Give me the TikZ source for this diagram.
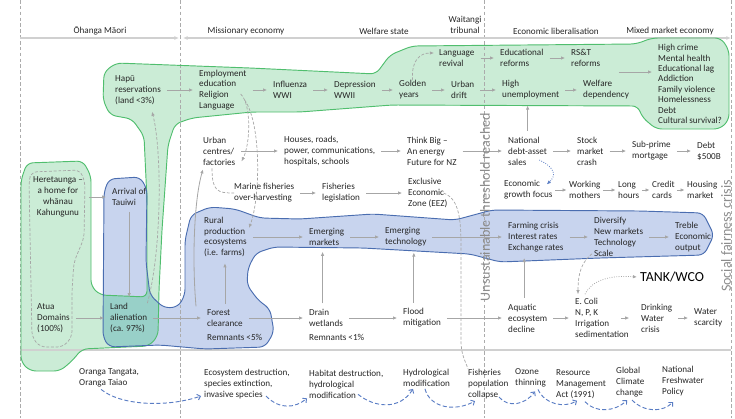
\documentclass[tikz,border=0pt]{standalone}
\usepackage{fontspec}
\setmainfont{Carlito}
\usepackage{tikz}
\usetikzlibrary{arrows.meta}

\definecolor{ink}{HTML}{262626}
\definecolor{greenfill}{HTML}{CBECD6}
\definecolor{greenline}{HTML}{50BE6E}
\definecolor{bluefill}{HTML}{C8D4EE}
\definecolor{blueline}{HTML}{4A6DB0}
\definecolor{tealfill}{HTML}{98D0C8}
\definecolor{arrgray}{HTML}{A6A6A6}
\definecolor{guidegray}{HTML}{ABABAB}
\definecolor{rulegray}{HTML}{D0D0D0}
\definecolor{bluelink}{HTML}{5A7DC4}
\definecolor{sidegray}{HTML}{8C8C8C}

\newcommand{\bodyfont}{\fontsize{7.8}{9.3}\selectfont}
\newcommand{\tankfont}{\fontsize{11.8}{14}\selectfont}
\newcommand{\sidefont}{\fontsize{12}{14}\selectfont}

%% blob outlines (pixel grid, y pointing down)
\newcommand{\greenpath}{(21,180) -- (27,163) -- (83,161) -- (91,176) -- (91,286) -- (100,295)
  -- (147,297) -- (147,200) -- (144,136) -- (132,119) -- (110,115) -- (103,100) -- (104,72)
  -- (116,63) -- (250,68) -- (376,74) -- (390,55) -- (412,46) -- (636,44) -- (652,38)
  -- (721,38) -- (729,50) -- (729,120) -- (720,129) -- (656,129) -- (642,117) -- (638,106)
  -- (392,105) -- (300,112) -- (252,112) -- (192,118) -- (175,124) -- (168,145) -- (162,230)
  -- (159,290) -- (158,336) -- (149,346) -- (82,349) -- (72,361) -- (60,371) -- (30,371)
  -- (21,362) -- cycle}
\newcommand{\bluepath}{(104,192) -- (109,179) -- (140,177) -- (147,189) -- (146,262)
  -- (150,295) -- (164,308) -- (178,307) -- (185,295) -- (185,240) -- (191,215) -- (210,207)
  -- (235,209) -- (260,218) -- (300,219) -- (373,214) -- (455,220) -- (492,210) -- (640,211)
  -- (703,213) -- (714,235) -- (704,255) -- (600,258) -- (500,262) -- (470,254) -- (363,248)
  -- (274,247) -- (256,253) -- (248,268) -- (247,285) -- (258,300) -- (270,309) -- (274,332)
  -- (265,347) -- (205,349) -- (160,345) -- (109,347) -- (103,337) -- cycle}

\begin{document}
\begin{tikzpicture}[
    x=0.03cm, y=-0.03cm,
    every node/.style={font=\bodyfont, text=ink},
    txt/.style={anchor=west, align=left, inner sep=0pt},
    ctr/.style={align=center, inner sep=0pt},
    hdr/.style={inner sep=0pt, align=center},
    arr/.style={-{Latex[length=3.5pt,width=3pt]}, draw=arrgray, line width=0.7pt,
                shorten <=5pt, shorten >=5pt},
    shortarr/.style={arr, shorten <=2pt, shorten >=2pt},
    dashlink/.style={draw=arrgray, line width=0.6pt, dash pattern=on 2.5pt off 1.5pt},
    linkarr/.style={dashlink, -{Latex[length=3.5pt,width=3pt]}},
    dotarr/.style={draw=arrgray, line width=0.7pt, dash pattern=on 0.7pt off 1.3pt,
                   -{Latex[length=3.5pt,width=3pt]}},
    bluedot/.style={dotarr, draw=bluelink},
    wavearr/.style={draw=bluelink, line width=0.8pt, dash pattern=on 3.5pt off 2pt,
                    -{Straight Barb[length=2.5pt,width=5pt]}},
    guideline/.style={draw=guidegray, line width=0.5pt, dash pattern=on 3pt off 2pt},
    timeline/.style={draw=rulegray, line width=1.2pt},
    sidetxt/.style={font=\sidefont, text=sidegray, rotate=90, inner sep=0pt},
    blob/.style={rounded corners=5pt, line width=0.8pt},
  ]
  \useasboundingbox (0,0) rectangle (735,418);

  %% Background blobs (teal where green and blue overlap)
  \fill[blob, fill=greenfill] \greenpath;
  \fill[blob, fill=bluefill] \bluepath;
  \begin{scope}[rounded corners=5pt]
    \clip \greenpath;
    \fill[fill=tealfill] \bluepath;
  \end{scope}

  %% Era guides, timeline and bottom rule
  \foreach \gx in {20,180,484,731}
    \draw[guideline] (\gx,0) -- (\gx,418);
  \coordinate (t0) at (20,38);
  \coordinate (t1) at (179,38);
  \coordinate (t2) at (183,38);
  \coordinate (t3) at (731,38);
  \draw[timeline, -{Latex[length=4pt,width=3.5pt]}] (t0) -- (t1);
  \draw[timeline, {Latex[length=4pt,width=3.5pt]}-{Latex[length=4pt,width=3.5pt]}] (t2) -- (t3);
  \coordinate (r0) at (20,350);
  \coordinate (r1) at (731,350);
  \draw[timeline, line width=1pt] (r0) -- (r1);

  \draw[blob, draw=greenline] \greenpath;
  \draw[blob, draw=blueline] \bluepath;
  \draw[dashlink, rounded corners=5pt] (29,182) -- (31,172) -- (80,170) -- (85,182) -- (84,238)
    -- (74,262) -- (72,290) -- (72,337) -- (63,347) -- (40,347) -- (32,337) -- cycle;

  %% Era headers
  \node[hdr] (hohanga)   at (100,31) {Ōhanga Māori};
  \node[hdr] (hmission)  at (246,31) {Missionary economy};
  \node[hdr] (hwelfare)  at (384,31) {Welfare state};
  \node[hdr] (hwaitangi) at (465,25) {Waitangi\\tribunal};
  \node[hdr] (hliberal)  at (556,31) {Economic liberalisation};
  \node[hdr] (hmixed)    at (670,31) {Mixed market economy};

  %% Green band
  \node[txt] (hapu)    at (115,90) {Hapū\\reservations\\(land <3\%)};
  \node[txt] (employ)  at (199,90) {Employment\\education\\Religion\\Language};
  \node[txt] (flu)     at (273,90) {Influenza\\WWI};
  \node[txt] (depr)    at (334,90) {Depression\\WWII};
  \node[txt] (golden)  at (399,90) {Golden\\years};
  \node[txt] (drift)   at (451,90) {Urban\\drift};
  \node[txt] (revival) at (439,58) {Language\\revival};
  \node[txt] (edref)   at (500,58) {Educational\\reforms};
  \node[txt] (rst)     at (571,58) {RS\&T\\reforms};
  \node[txt] (unemp)   at (502,90) {High\\unemployment};
  \node[txt] (welfdep) at (583,90) {Welfare\\dependency};
  \node[txt, font=\fontsize{7.8}{8.9}\selectfont] (crisis) at (658,84)
    {High crime\\Mental health\\Educational lag\\Addiction\\Family violence\\Homelessness\\Debt\\Cultural survival?};

  \draw[arr] (hapu)    -- (employ);
  \draw[arr] (employ)  -- (flu);
  \draw[arr] (flu)     -- (depr);
  \draw[arr] (depr)    -- (golden);
  \draw[arr] (golden)  -- (drift);
  \draw[arr] (drift)   -- (unemp);
  \draw[arr] (revival) -- (edref);
  \draw[arr] (edref)   -- (rst);
  \draw[arr] (unemp)   -- (welfdep);
  \coordinate (reformsout) at (613,72);
  \draw[arr] (reformsout) -- (reformsout -| crisis.west);
  \draw[linkarr] (golden.north) .. controls (411,60) and (420,53) .. ([shift={(-5,-5)}]revival.west);

  %% Left pillars
  \node[ctr] (here)    at (58,197)  {Heretaunga –\\a home for\\whānau\\Kahungunu};
  \node[txt] (arrival) at (112,197) {Arrival of\\Tauiwi};
  \node[txt] (atua)    at (37,318)  {Atua\\Domains\\(100\%)};
  \node[txt] (land)    at (110,318) {Land\\alienation\\(ca. 97\%)};

  \draw[arr] (here) -- (arrival);
  \draw[arr] (arrival.south) -- (arrival.south |- land.north);
  \draw[arr] (atua) -- (land);
  \draw[linkarr] (land.north east) .. controls (162,250) and (162,150) .. ([shift={(-9,7)}]hapu.south east);

  %% Middle rows
  \node[txt] (urban)    at (203,151) {Urban\\centres/\\factories};
  \node[txt] (houses)   at (284,151) {Houses, roads,\\power, communications,\\hospitals, schools};
  \node[txt] (thinkbig) at (407,151) {Think Big –\\An energy\\Future for NZ};
  \node[txt] (national) at (508,151) {National\\debt-asset\\sales};
  \node[txt] (stock)    at (577,151) {Stock\\market\\crash};
  \node[txt] (subprime) at (632,151) {Sub-prime\\mortgage};
  \node[txt] (debt)     at (697,151) {Debt\\\$500B};
  \node[txt] (marine)   at (234,193) {Marine fisheries\\over-harvesting};
  \node[txt] (fishleg)  at (322,193) {Fisheries\\legislation};
  \node[txt] (eez)      at (408,193) {Exclusive\\Economic\\Zone (EEZ)};
  \node[txt] (growth)   at (504,190) {Economic\\growth focus};
  \node[txt] (working)  at (569,190) {Working\\mothers};
  \node[txt] (longh)    at (618,190) {Long\\hours};
  \node[txt] (credit)   at (652,190) {Credit\\cards};
  \node[txt] (housing)  at (687,190) {Housing\\market};

  %% Blue band
  \node[txt] (rural)     at (204,237) {Rural\\production\\ecosystems\\(i.e. farms)};
  \node[txt] (emmark)    at (309,237) {Emerging\\markets};
  \node[txt] (emtech)    at (385,237) {Emerging\\technology};
  \node[txt] (farming)   at (508,237) {Farming crisis\\Interest rates\\Exchange rates};
  \node[txt] (diversify) at (594,237) {Diversify\\New markets\\Technology\\Scale};
  \node[txt] (treble)    at (675,237) {Treble\\Economic\\output};

  %% Bottom row
  \node[txt] (forest)    at (207,318) {Forest\\clearance};
  \node[txt] (forestrem) at (207,337) {Remnants <5\%};
  \node[txt] (drain)     at (309,318) {Drain\\wetlands};
  \node[txt] (drainrem)  at (309,337) {Remnants <1\%};
  \node[txt] (flood)     at (403,318) {Flood\\mitigation};
  \node[txt] (aquatic)   at (508,318) {Aquatic\\ecosystem\\decline};
  \node[txt] (ecoli)     at (575,318) {E. Coli\\N, P, K\\Irrigation\\sedimentation};
  \node[txt] (drinking)  at (641,318) {Drinking\\Water\\crisis};
  \node[txt] (scarcity)  at (694,318) {Water\\scarcity};
  \node[txt, font=\tankfont, text=black] (tank) at (640,277) {TANK/WCO};

  %% Pressures under the rule
  \node[txt] (oranga)  at (79,378)  {Oranga Tangata,\\Oranga Taiao};
  \node[txt] (ecodest) at (204,384) {Ecosystem destruction,\\species extinction,\\invasive species};
  \node[txt] (habitat) at (309,384) {Habitat destruction,\\hydrological\\modification};
  \node[txt] (hydro)   at (403,378) {Hydrological\\modification};
  \node[txt] (fishcol) at (468,384) {Fisheries\\population\\collapse};
  \node[txt] (ozone)   at (515,378) {Ozone\\thinning};
  \node[txt] (rma)     at (556,384) {Resource\\Management\\Act (1991)};
  \node[txt] (climate) at (616,382) {Global\\Climate\\change};
  \node[txt] (nfp)     at (662,381) {National\\Freshwater\\Policy};

  %% Middle connectors
  \draw[arr] (urban)    -- (houses);
  \draw[arr] (houses)   -- (thinkbig);
  \draw[arr] (thinkbig) -- (national);
  \draw[arr] (national) -- (stock);
  \draw[arr] (stock)    -- (subprime);
  \draw[arr] (subprime) -- (debt);
  \draw[arr] (marine)   -- (fishleg);
  \draw[arr] (fishleg)  -- (eez);
  \draw[shortarr] (growth)  -- (working);
  \draw[shortarr] (working) -- (longh);
  \draw[shortarr] (longh)   -- (credit);
  \draw[shortarr] (credit)  -- (housing);
  \draw[arr] (national.north) -- (national.north |- unemp.south);

  \draw[linkarr] ([shift={(-6,4)}]employ.east) .. controls (252,105) and (250,145) .. ([shift={(6,-4)}]urban.south east);
  \draw[linkarr] ([shift={(-2,10)}]employ.east) .. controls (262,125) and (260,200) .. ([shift={(2,-9)}]rural.east);
  \draw[dashlink] ([shift={(9,3)}]urban.south west) .. controls (212,192) and (218,193) .. (marine.west);
  \draw[dashlink] ([shift={(-4,0)}]eez.east) .. controls (463,200) and (461,230) .. (461,270)
    -- (461,340) .. controls (461,355) and (465,360) .. (fishcol.north west);
  \draw[bluedot] ([shift={(-8,9)}]national.east) .. controls (556,168) and (556,176) .. ([shift={(-6,4)}]growth.north east);

  \draw[arr] (rural)     -- (emmark);
  \draw[arr] (emmark)    -- (emtech);
  \draw[arr] (emtech)    -- (farming);
  \draw[arr] (farming)   -- (diversify);
  \draw[arr] (diversify) -- (treble);

  %% Bottom connectors
  \draw[arr] (land)    -- (forest);
  \draw[arr] (forest)  -- (drain);
  \draw[arr] (drain)   -- (flood);
  \draw[arr] (flood)   -- (aquatic);
  \draw[arr] (aquatic) -- (ecoli);
  \draw[arr, shorten <=0pt, shorten >=0pt] ([xshift=-7pt]ecoli.east) -- ([xshift=-10pt]drinking.west);
  \draw[arr] (drinking) -- (scarcity);

  \draw[arr] (forest.north) -- (forest.north |- rural.south);
  \draw[arr] ([xshift=-3pt]drain.north) -- ([xshift=-3pt]drain.north |- emmark.south);
  \draw[arr] ([xshift=-7pt]flood.north) -- ([xshift=-7pt]flood.north |- emtech.south);
  \draw[arr] ([xshift=-3pt]aquatic.north) -- ([xshift=-3pt]aquatic.north |- farming.south);
  \draw[arr, shorten <=0pt, shorten >=0pt] ([shift={(-11,-3)}]forest.north west)
    .. controls (192,260) and (194,200) .. ([shift={(0,4)}]urban.south west);
  \draw[linkarr] ([shift={(-2,-3)}]diversify.south west) .. controls (582,262) and (578,272) .. ([shift={(3,-4)}]ecoli.north west);
  \draw[dotarr] ([shift={(10,-4)}]ecoli.north west) .. controls (592,280) and (610,275) .. ([shift={(-3,0)}]tank.west);

  \draw[wavearr] ([shift={(-8,2)}]oranga.south) .. controls (120,405) and (165,408) .. ([shift={(-3,-3)}]ecodest.south west);
  \draw[wavearr] ([shift={(19,-3)}]ecodest.south) .. controls (280,410) and (295,408) .. ([shift={(-2,0)}]habitat.south west);
  \draw[wavearr] ([shift={(49,-4)}]habitat.south west) .. controls (375,408) and (400,410) .. ([shift={(10,2)}]hydro.south west);
  \draw[wavearr] ([shift={(22,2)}]hydro.south west) .. controls (430,408) and (455,412) .. ([shift={(7,2)}]fishcol.south west);
  \draw[wavearr] ([shift={(31,-2)}]fishcol.south west) .. controls (508,408) and (525,405) .. ([shift={(20,4)}]ozone.south west);
  \draw[wavearr] ([shift={(23,2)}]ozone.south west) .. controls (545,405) and (565,408) .. ([shift={(21,2)}]rma.south west);
  \draw[wavearr] ([shift={(29,3)}]rma.south west) .. controls (595,413) and (615,412) .. ([shift={(11,3)}]climate.south west);
  \draw[wavearr] ([shift={(16,3)}]climate.south west) .. controls (645,413) and (663,412) .. ([shift={(11,6)}]nfp.south west);

  %% Threshold captions
  \node[sidetxt] (unsust) at (485,207) {Unsustainable threshold reached};
  \node[sidetxt] (social) at (726,236) {Social fairness crisis};
\end{tikzpicture}
\end{document}
